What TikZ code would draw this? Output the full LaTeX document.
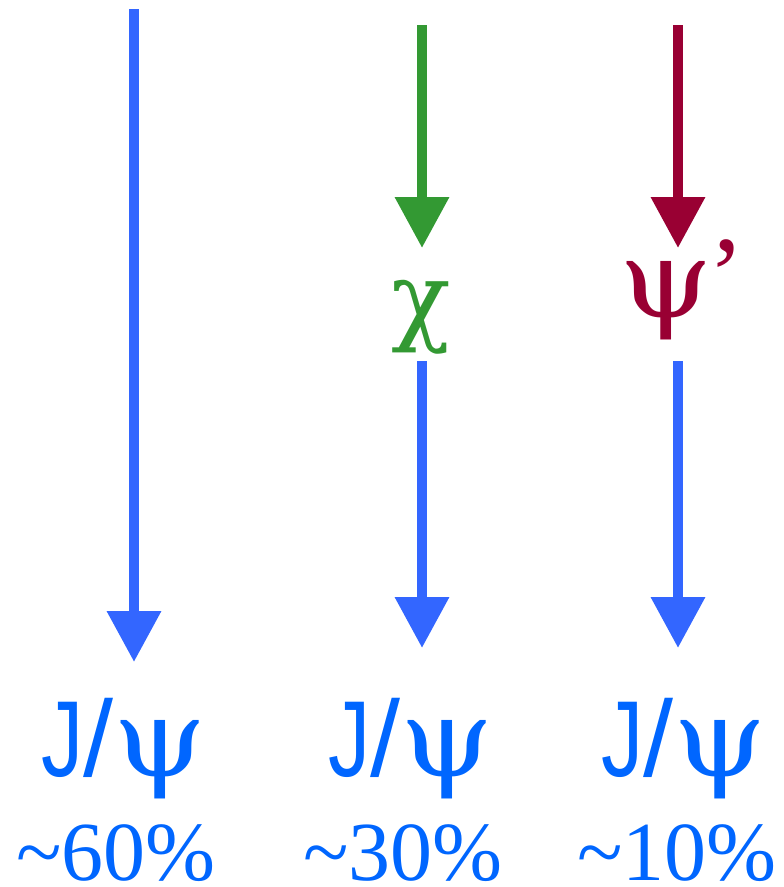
\documentclass[tikz,border=0pt]{standalone}
\usepackage{fontspec}
\setmainfont{Liberation Serif}
\newfontfamily\sansf{Liberation Sans}
\newfontfamily\grk{DejaVu Serif}
\usetikzlibrary{arrows.meta}
\definecolor{arrblue}{RGB}{51,102,255}
\definecolor{txtblue}{RGB}{0,102,255}
\definecolor{grn}{RGB}{51,153,51}
\definecolor{mar}{RGB}{153,0,51}
\newcommand{\jpsi}{{\sansf\scalebox{0.78}[1]{J}/}{\grk\scalebox{1.1}[1]{ψ}}}
\tikzset{
  bigarrow/.style={line width=10pt, line cap=butt, -{Triangle[width=52pt,length=51pt]}},
  lbl/.style={inner sep=0pt, anchor=base, font=\fontsize{108}{108}\selectfont},
  pct/.style={inner sep=0pt, anchor=base, text depth=0pt, text=txtblue, font=\fontsize{84}{84}\selectfont},
}
\begin{document}
\begin{tikzpicture}[x=1pt,y=-1pt]
\useasboundingbox (0,0) rectangle (784,887);
% labels
\node[lbl, text=grn, font=\fontsize{98}{98}\selectfont\grk] (chi) at (421,332) {χ};
\node[lbl, text=mar] (psip) at (682,317) {{\grk\scalebox{1.1}[1]{ψ}}\kern-4pt\raisebox{6pt}{’}};
\node[lbl, text=txtblue] (j1) at (124,776) {\jpsi};
\node[lbl, text=txtblue] (j2) at (411,776) {\jpsi};
\node[lbl, text=txtblue] (j3) at (684,776) {\jpsi};
\node[pct] (p1) at (116,880) {\char"7E\relax 60\%};
\node[pct] (p2) at (403,880) {\char"7E\relax 30\%};
\node[pct] (p3) at (677,880) {\char"7E\relax 10\%};
% arrow ends
\coordinate (a1s) at (134,9);
\coordinate (a1e) at (134,662);
\coordinate (g1s) at (422,25);
\coordinate (g1e) at (422,248);
\coordinate (b2s) at (422,361);
\coordinate (b2e) at (422,648);
\coordinate (m1s) at (678,25);
\coordinate (m1e) at (678,248);
\coordinate (b3s) at (678,361);
\coordinate (b3e) at (678,648);
\draw[bigarrow, arrblue] (a1s) -- (a1e);
\draw[bigarrow, grn] (g1s) -- (g1e);
\draw[bigarrow, arrblue] (b2s) -- (b2e);
\draw[bigarrow, mar] (m1s) -- (m1e);
\draw[bigarrow, arrblue] (b3s) -- (b3e);
\end{tikzpicture}
\end{document}
